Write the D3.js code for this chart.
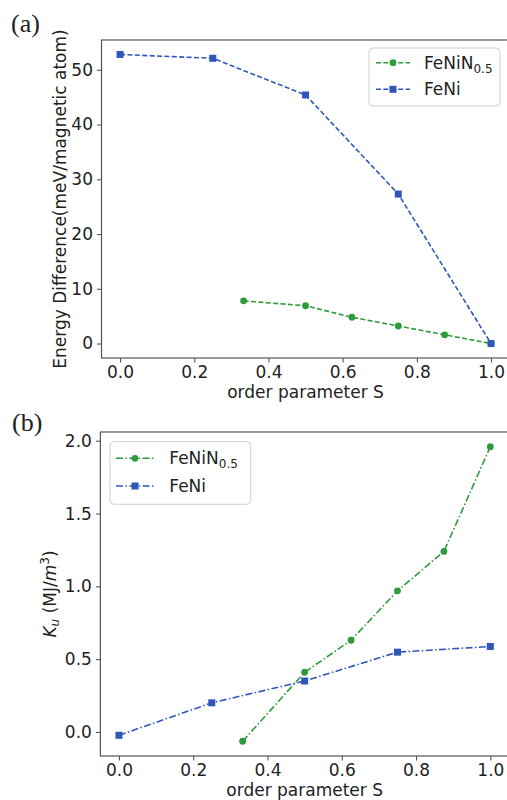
<!DOCTYPE html>
<html><head><meta charset="utf-8">
<script src="https://cdn.jsdelivr.net/npm/d3@7"></script>
<style>body{margin:0;background:#fff}svg{display:block}text{font-family:"DejaVu Sans",sans-serif;fill:#222}</style>
</head><body><svg id="c" width="507" height="800"></svg>
<script>
// ---- data ----
const xTicks = [0.0, 0.2, 0.4, 0.6, 0.8, 1.0];
const sFeNi = [0, 0.25, 0.5, 0.75, 1.0];
const sFeNiN = [0.333, 0.5, 0.625, 0.75, 0.875, 1.0];
const energyFeNi = [52.8, 52.1, 45.4, 27.3, 0.0];
const energyFeNiN = [7.8, 6.9, 4.8, 3.2, 1.6, 0.0];
const energyTicks = [0, 10, 20, 30, 40, 50];
const kuFeNi = [-0.023, 0.20, 0.35, 0.548, 0.587];
const kuFeNiN = [-0.064, 0.41, 0.63, 0.969, 1.24, 1.959];
const kuTicks = [0.0, 0.5, 1.0, 1.5, 2.0];
const seriesNames = ["FeNiN", "FeNi"];
const colors = {FeNiN: "#2e9a3c", FeNi: "#2f57b9"};

const svg = d3.select("#c");
svg.append("rect").attr("width",507).attr("height",800).attr("fill","#fff");

function pad(ext){const r=ext[1]-ext[0];return [ext[0]-0.05*r, ext[1]+0.05*r];}

function panel(o){
  const g = svg.append("g");
  const x = d3.scaleLinear().domain(pad([0,1])).range([o.left, o.right]);
  const y = d3.scaleLinear().domain(pad(d3.extent(o.a.concat(o.b)))).range([o.bottom, o.top]);
  const axisCol = "#555";
  g.append("rect").attr("x",o.left).attr("y",o.top).attr("width",o.right-o.left).attr("height",o.bottom-o.top)
    .attr("fill","none").attr("stroke",axisCol).attr("stroke-width",1.2);
  const xa = g.append("g").attr("transform",`translate(0,${o.bottom})`)
    .call(d3.axisBottom(x).tickValues(xTicks).tickFormat(d3.format(".1f")).tickSize(4.5).tickPadding(3.5));
  const ya = g.append("g").attr("transform",`translate(${o.left},0)`)
    .call(d3.axisLeft(y).tickValues(o.yTicks).tickFormat(o.yFmt).tickSize(4.5).tickPadding(4));
  [xa,ya].forEach(a=>{a.select(".domain").remove();a.selectAll("line").attr("stroke",axisCol).attr("stroke-width",1.1);
    a.selectAll("text").attr("font-size",17).attr("font-family","DejaVu Sans").attr("fill","#222");});
  g.append("text").attr("x",(o.left+o.right)/2).attr("y",o.xlabY).attr("text-anchor","middle").attr("font-size",17).text("order parameter S");
  g.append("text").attr("x",o.plX).attr("y",o.plY).attr("font-size",26).style("font-family","'Liberation Serif',serif").text(o.pl);
  const sets = [{n:"FeNiN", xs:sFeNiN, ys:o.b, m:"circle"},{n:"FeNi", xs:sFeNi, ys:o.a, m:"square"}];
  const line = d3.line().x(d=>x(d[0])).y(d=>y(d[1]));
  sets.forEach(s=>{
    const pts = s.xs.map((v,i)=>[v,s.ys[i]]);
    g.append("path").attr("d",line(pts)).attr("fill","none").attr("stroke",colors[s.n]).attr("stroke-width",1.6).attr("stroke-dasharray",o.dash);
    pts.forEach(p=>marker(g,s.m,x(p[0]),y(p[1]),colors[s.n]));
  });
  const L=o.leg;
  g.append("rect").attr("x",L.x0).attr("y",L.y0).attr("width",L.x1-L.x0).attr("height",L.y1-L.y0).attr("rx",4)
    .attr("fill","#fff").attr("fill-opacity",0.85).attr("stroke","#d0d0d0").attr("stroke-width",1);
  sets.forEach((s,i)=>{
    const yy=L.rows[i];
    g.append("line").attr("x1",L.lx0).attr("x2",L.lx1).attr("y1",yy).attr("y2",yy).attr("stroke",colors[s.n]).attr("stroke-width",1.6).attr("stroke-dasharray",o.dash);
    marker(g,s.m,(L.lx0+L.lx1)/2,yy,colors[s.n]);
    const t=g.append("text").attr("x",L.tx).attr("y",yy).attr("dy","0.36em").attr("font-size",17);
    if(s.n==="FeNiN"){t.append("tspan").text("FeNiN");t.append("tspan").attr("font-size",12).attr("dy",4).text("0.5");}
    else t.text("FeNi");
  });
  const yl = g.append("text").attr("transform",`translate(${o.ylabX},${(o.top+o.bottom)/2}) rotate(-90)`).attr("text-anchor","middle").attr("font-size",17);
  o.ylab(yl);
}
function marker(g,m,cx,cy,c){
  if(m==="circle") g.append("circle").attr("cx",cx).attr("cy",cy).attr("r",3.4).attr("fill",c);
  else g.append("rect").attr("x",cx-3.5).attr("y",cy-3.5).attr("width",7).attr("height",7).attr("fill",c);
}

panel({left:101.5,right:509.6,top:40,bottom:358,a:energyFeNi,b:energyFeNiN,yTicks:energyTicks,yFmt:d3.format("d"),
  dash:"5,2.4",xlabY:398,pl:"(a)",plX:11,plY:32,ylabX:65.5,
  leg:{x0:369,x1:500,y0:48,y1:106,rows:[62.7,89.3],lx0:376,lx1:410,tx:424},
  ylab:t=>t.text("Energy Difference(meV/magnetic atom)")});
panel({left:100.4,right:508.9,top:432,bottom:756,a:kuFeNi,b:kuFeNiN,yTicks:kuTicks,yFmt:d3.format(".1f"),
  dash:"7,2.4,1.5,2.4",xlabY:795.5,pl:"(b)",plX:12,plY:430.5,ylabX:56,
  leg:{x0:110,x1:250.7,y0:441.7,y1:504.3,rows:[458.3,486],lx0:116,lx1:154,tx:169.3},
  ylab:t=>{t.append("tspan").attr("font-style","italic").text("K");
    t.append("tspan").attr("font-style","italic").attr("font-size",12).attr("dy",3).text("u");
    t.append("tspan").attr("dy",-3).text(" (MJ/");
    t.append("tspan").attr("font-style","italic").text("m");
    t.append("tspan").attr("font-size",12).attr("dy",-7).text("3");
    t.append("tspan").attr("dy",7).text(")");}});
</script></body></html>
